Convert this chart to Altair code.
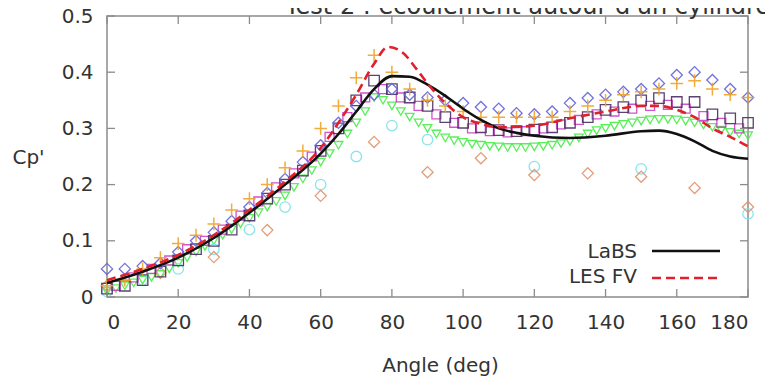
import altair as alt
import pandas as pd

# ---------------- data ----------------
ANG5 = list(range(0, 181, 5))            # 0,5,...,180
ANG5_OFF = [a + 2.5 for a in range(0, 180, 5)]  # 2.5 ... 177.5
ANG25 = [a / 2 for a in range(0, 361, 5)]        # 0,2.5,...,180

PLUS_Y = [0.02, 0.03, 0.05, 0.07, 0.095, 0.11, 0.13, 0.155, 0.175, 0.20,
          0.23, 0.26, 0.30, 0.34, 0.39, 0.43, 0.40, 0.37, 0.35, 0.34,
          0.33, 0.32, 0.32, 0.32, 0.32, 0.32, 0.33, 0.34, 0.35, 0.36,
          0.365, 0.37, 0.38, 0.385, 0.37, 0.36, 0.355]

BLUE_Y = [0.05, 0.05, 0.055, 0.06, 0.08, 0.10, 0.115, 0.135, 0.16, 0.185,
          0.21, 0.24, 0.27, 0.31, 0.34, 0.36, 0.37, 0.36, 0.355, 0.35,
          0.345, 0.338, 0.335, 0.327, 0.325, 0.33, 0.345, 0.354, 0.36, 0.365,
          0.37, 0.38, 0.395, 0.40, 0.386, 0.37, 0.355]

SQUARE_Y = [0.015, 0.02, 0.03, 0.045, 0.065, 0.085, 0.10, 0.12, 0.145, 0.175,
            0.20, 0.225, 0.26, 0.30, 0.35, 0.385, 0.37, 0.355, 0.34, 0.32,
            0.31, 0.302, 0.297, 0.295, 0.298, 0.302, 0.31, 0.32, 0.333, 0.338,
            0.35, 0.354, 0.347, 0.347, 0.325, 0.318, 0.31]

MAGENTA_Y = [0.02, 0.035, 0.05, 0.065, 0.085, 0.10, 0.12, 0.145, 0.17, 0.195,
             0.22, 0.25, 0.285, 0.32, 0.355, 0.37, 0.355, 0.34, 0.325, 0.31,
             0.30, 0.295, 0.293, 0.295, 0.30, 0.307, 0.315, 0.325, 0.33, 0.335,
             0.34, 0.342, 0.335, 0.322, 0.31, 0.30]

GREEN_Y = [0.01, 0.015, 0.02, 0.025, 0.03, 0.035, 0.04, 0.05, 0.06, 0.07,
           0.08, 0.09, 0.10, 0.11, 0.12, 0.13, 0.14, 0.15, 0.16, 0.17,
           0.18, 0.195, 0.21, 0.225, 0.24, 0.255, 0.27, 0.29, 0.31, 0.33,
           0.355, 0.35, 0.34, 0.33, 0.32, 0.31, 0.30, 0.29, 0.283, 0.278,
           0.275, 0.272, 0.27, 0.268, 0.267, 0.266, 0.266, 0.266, 0.267, 0.268,
           0.27, 0.273, 0.277, 0.283, 0.29, 0.296, 0.30, 0.304, 0.307, 0.31,
           0.313, 0.315, 0.316, 0.316, 0.315, 0.313, 0.31, 0.306, 0.302, 0.297,
           0.293, 0.29, 0.287]

CYAN_X = [0, 10, 20, 30, 40, 50, 60, 70, 80, 90, 120, 150, 180]
CYAN_Y = [0.01, 0.03, 0.05, 0.085, 0.12, 0.16, 0.20, 0.25, 0.305, 0.28, 0.232, 0.228, 0.148]

SALMON_X = [0, 15, 30, 45, 60, 75, 90, 105, 120, 135, 150, 165, 180]
SALMON_Y = [0.02, 0.043, 0.071, 0.119, 0.18, 0.276, 0.222, 0.247, 0.217, 0.22, 0.214, 0.194, 0.16]

LABS_X = [0, 10, 20, 30, 40, 50, 60, 65, 70, 75, 80, 85, 90, 95, 100, 105, 110,
          115, 120, 130, 140, 150, 155, 160, 165, 170, 175, 180]
LABS_Y = [0.025, 0.045, 0.07, 0.105, 0.15, 0.20, 0.255, 0.29, 0.33, 0.37, 0.393,
          0.392, 0.378, 0.358, 0.335, 0.315, 0.30, 0.292, 0.287, 0.283, 0.287,
          0.295, 0.296, 0.29, 0.277, 0.26, 0.25, 0.246]

LESFV_X = [0, 10, 20, 30, 40, 50, 60, 65, 70, 75, 79, 83, 87, 90, 95, 100, 105,
           110, 120, 130, 140, 150, 155, 160, 165, 170, 175, 180]
LESFV_Y = [0.03, 0.05, 0.075, 0.11, 0.155, 0.205, 0.265, 0.31, 0.36, 0.415, 0.445,
           0.435, 0.405, 0.38, 0.345, 0.32, 0.308, 0.302, 0.305, 0.318, 0.33,
           0.34, 0.34, 0.333, 0.32, 0.30, 0.285, 0.268]

X_TICKS = [0, 20, 40, 60, 80, 100, 120, 140, 160, 180]
Y_TICKS = [0, 0.1, 0.2, 0.3, 0.4, 0.5]
LEGEND_LABELS = ["LaBS", "LES FV"]
TITLE = ["Test 2 : écoulement autour d'un cylindre"]

# ---------------- layout ----------------
W, H = 641, 281
FONT = "DejaVu Sans"
FS = 20
FRAME = "#8c8c8c"
TXT = "#333333"

xs = alt.Scale(domain=[0, 180], nice=False, zero=False)
ys = alt.Scale(domain=[0, 0.5], nice=False, zero=False)

common_axis = dict(tickSize=0, ticks=False, domain=False, grid=False,
                   labelFontSize=FS, labelFont=FONT, labelColor=TXT,
                   titleFont=FONT, titleFontSize=FS, titleFontWeight="normal",
                   titleColor=TXT)
x_axis = alt.Axis(values=X_TICKS, title="Angle (deg)", titleX=333, titleY=74,
                  titleBaseline="alphabetic", titleAlign="center", labelPadding=15,
                  **common_axis)
y_axis = alt.Axis(values=Y_TICKS, format=".1~f", title="Cp'", titleAngle=0,
                  titleX=-79, titleY=141, titleAlign="center", titleBaseline="middle",
                  labelPadding=14, **common_axis)


def df(xv, yv):
    return pd.DataFrame({"x": xv, "y": yv})


def enc(first=False):
    if first:
        return dict(x=alt.X("x:Q", scale=xs, axis=x_axis),
                    y=alt.Y("y:Q", scale=ys, axis=y_axis))
    return dict(x=alt.X("x:Q", scale=xs), y=alt.Y("y:Q", scale=ys))


def pts(xv, yv, shape, color, size, filled=False, sw=1.3, first=False):
    return alt.Chart(df(xv, yv)).mark_point(
        shape=shape, filled=filled, size=size, strokeWidth=sw, color=color,
        opacity=0.9
    ).encode(**enc(first))


PLUS = "M-1,0L1,0M0,-1L0,1"

green = pts(ANG25, GREEN_Y, "triangle-down", "#48ee48", 75, first=True)
cyan = pts(CYAN_X, CYAN_Y, "circle", "#7de3ea", 110)
salmon = pts(SALMON_X, SALMON_Y, "diamond", "#e3926c", 125)
magenta = pts(ANG5_OFF, MAGENTA_Y, "square", "#d040c8", 80)
squares = pts(ANG5, SQUARE_Y, "square", "#4a2e62", 110)
blue = pts(ANG5, BLUE_Y, "diamond", "#6464dc", 125)
plus = pts(ANG5, PLUS_Y, PLUS, "#f0a428", 160, sw=1.5)

labs = alt.Chart(df(LABS_X, LABS_Y)).mark_line(
    color="#111111", strokeWidth=2.6, interpolate="monotone"
).encode(**enc())

lesfv = alt.Chart(df(LESFV_X, LESFV_Y)).mark_line(
    color="#e0202c", strokeWidth=2.6, strokeDash=[9, 5], interpolate="monotone"
).encode(**enc())

# inward ticks on all four sides
xt = pd.DataFrame({"x": X_TICKS})
yt = pd.DataFrame({"y": Y_TICKS})
tick_style = dict(color=FRAME, strokeWidth=1.3)
xt_bottom = alt.Chart(xt).mark_rule(**tick_style).encode(
    x=alt.X("x:Q", scale=xs), y=alt.value(H), y2=alt.value(H - 8))
xt_top = alt.Chart(xt).mark_rule(**tick_style).encode(
    x=alt.X("x:Q", scale=xs), y=alt.value(0), y2=alt.value(8))
yt_left = alt.Chart(yt).mark_rule(**tick_style).encode(
    y=alt.Y("y:Q", scale=ys), x=alt.value(0), x2=alt.value(8))
yt_right = alt.Chart(yt).mark_rule(**tick_style).encode(
    y=alt.Y("y:Q", scale=ys), x=alt.value(W - 8), x2=alt.value(W))

# legend (inside, bottom right)
leg1_txt = alt.Chart(pd.DataFrame({"label": [LEGEND_LABELS[0]]})).mark_text(
    align="right", baseline="middle", font=FONT, fontSize=FS, color=TXT
).encode(text="label:N", x=alt.value(530), y=alt.value(236))
leg2_txt = alt.Chart(pd.DataFrame({"label": [LEGEND_LABELS[1]]})).mark_text(
    align="right", baseline="middle", font=FONT, fontSize=FS, color=TXT
).encode(text="label:N", x=alt.value(530), y=alt.value(261))
leg1_line = alt.Chart(pd.DataFrame({"label": [LEGEND_LABELS[0]]})).mark_rule(
    color="#111111", strokeWidth=2.6
).encode(x=alt.value(545), x2=alt.value(613), y=alt.value(235))
leg2_line = alt.Chart(pd.DataFrame({"label": [LEGEND_LABELS[1]]})).mark_rule(
    color="#e0202c", strokeWidth=2.6, strokeDash=[9, 5]
).encode(x=alt.value(545), x2=alt.value(613), y=alt.value(262))

title = alt.Chart(pd.DataFrame({"t": TITLE})).mark_text(
    align="left", baseline="alphabetic", font=FONT, fontSize=24, color=TXT
).encode(text="t:N", x=alt.value(178), y=alt.value(-2))

chart = alt.layer(
    green, cyan, salmon, magenta, squares, blue, plus, labs, lesfv,
    xt_bottom, xt_top, yt_left, yt_right,
    leg1_txt, leg2_txt, leg1_line, leg2_line, title
).properties(
    width=W, height=H,
    padding={"left": 99, "top": 8, "right": 17, "bottom": 79},
    autosize=alt.AutoSizeParams(type="none"),
    background="white",
).configure_view(
    stroke=FRAME, strokeWidth=1.5
)

chart.save("out.html", embed_options={"renderer": "svg", "actions": False})
